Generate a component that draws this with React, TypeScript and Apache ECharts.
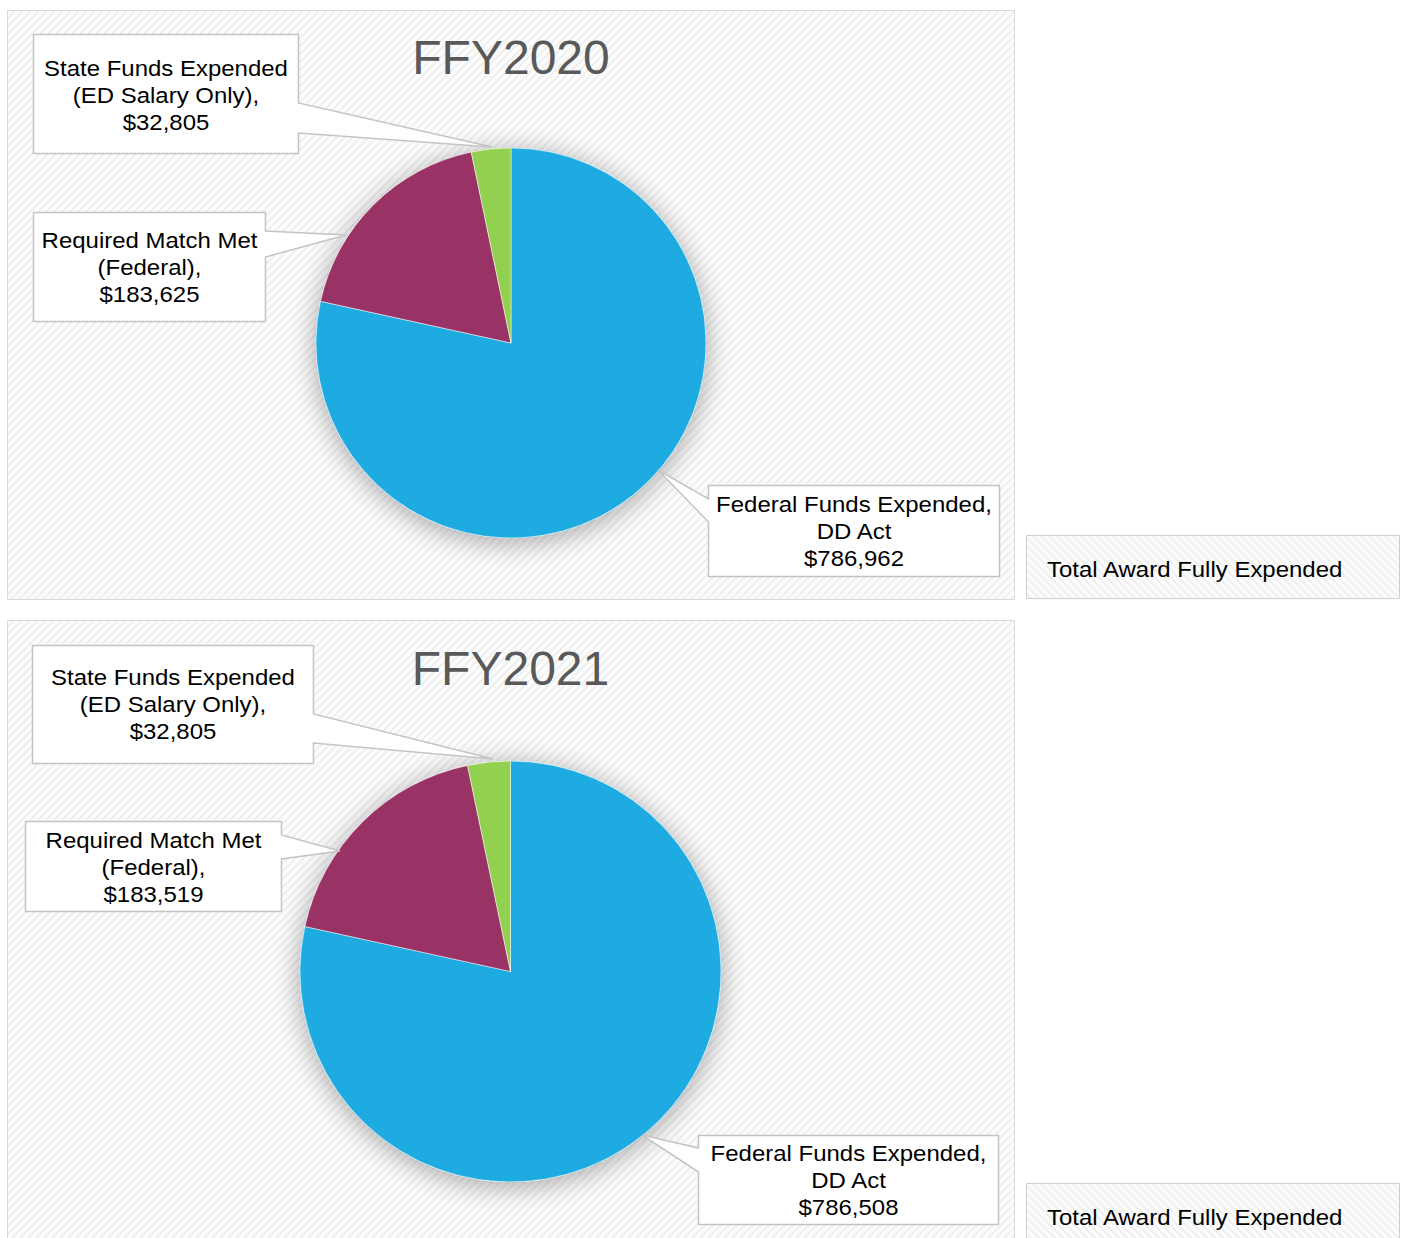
import React, { useEffect, useRef } from "react";
import * as echarts from "echarts";

// ---- data ----
const years = ["FFY2020", "FFY2021"];
const categories = [
  "Federal Funds Expended,\nDD Act",
  "Required Match Met\n(Federal),",
  "State Funds Expended\n(ED Salary Only),",
];
const values2020 = [786962, 183625, 32805];
const values2021 = [786508, 183519, 32805];
const sideNote = "Total Award Fully Expended";
const sliceColors = ["#1EABE1", "#993366", "#92D050"];

const FONT = "'Liberation Sans', Arial, sans-serif";
const TEXT_STRETCH = 1.09;

function fmt(v: number) {
  return "$" + v.toLocaleString("en-US");
}

function makePattern(dir: number) {
  const c = document.createElement("canvas");
  c.width = 8;
  c.height = 8;
  const ctx = c.getContext("2d")!;
  ctx.fillStyle = "#fcfcfc";
  ctx.fillRect(0, 0, 8, 8);
  ctx.fillStyle = "#f0f0f0";
  for (let y = 0; y < 8; y++) {
    for (let x = 0; x < 8; x++) {
      const k = dir > 0 ? (x + y) % 8 : (x - y + 8) % 8;
      if (k < 3) ctx.fillRect(x, y, 1, 1);
    }
  }
  return c;
}

type Callout = {
  box: [number, number, number, number]; // x0,y0,x1,y1
  side: "left" | "right";
  w: [number, number]; // wedge y range on side
  tip: [number, number];
  textY: number;
};

// layout per panel: [federal, match, state]
const panelLayouts = [
  {
    panel: [7.5, 10.5, 1007, 589],
    center: [511, 343],
    radius: 195,
    titleY: 57,
    callouts: [
      { box: [708.5, 485.5, 999.5, 576.5], side: "left", w: [499, 522], tip: [658, 470], textY: 531 },
      { box: [33.5, 212.5, 265.5, 321.5], side: "right", w: [231, 257], tip: [346, 235], textY: 267 },
      { box: [33.5, 34.5, 298.5, 153.5], side: "right", w: [103, 133], tip: [492, 147], textY: 95 },
    ] as Callout[],
    note: [1026.5, 535.5, 373, 63],
  },
  {
    panel: [7.5, 620.5, 1007, 640],
    center: [510.5, 971.5],
    radius: 210.5,
    titleY: 668,
    callouts: [
      { box: [698.5, 1135.5, 998.5, 1224.5], side: "left", w: [1148, 1172], tip: [642, 1135], textY: 1180 },
      { box: [25.5, 821.5, 281.5, 911.5], side: "right", w: [835, 859], tip: [340, 851], textY: 867 },
      { box: [32.5, 645.5, 313.5, 763.5], side: "right", w: [714, 743], tip: [493, 759], textY: 704 },
    ] as Callout[],
    note: [1026.5, 1183.5, 373, 80],
  },
];

function calloutPoints(c: Callout) {
  const [x0, y0, x1, y1] = c.box;
  if (c.side === "right") {
    return [[x0, y0], [x1, y0], [x1, c.w[0]], c.tip, [x1, c.w[1]], [x1, y1], [x0, y1]];
  }
  return [[x0, y0], [x1, y0], [x1, y1], [x0, y1], [x0, c.w[1]], c.tip, [x0, c.w[0]]];
}

export default function App() {
  const ref = useRef<HTMLDivElement>(null);
  useEffect(() => {
    document.body.style.margin = "0";
    if (!ref.current) return;
    const chart = echarts.init(ref.current, null, { renderer: "svg" });
    const patA = makePattern(1);
    const patB = makePattern(-1);
    const allValues = [values2020, values2021];

    const graphics: any[] = [];
    const series: any[] = [];

    panelLayouts.forEach((L, pi) => {
      const vals = allValues[pi];
      graphics.push({
        type: "rect",
        z: -10,
        shape: { x: L.panel[0], y: L.panel[1], width: L.panel[2], height: L.panel[3] },
        style: {
          fill: { image: patA, repeat: "repeat", imageWidth: 8, imageHeight: 8 } as any,
          stroke: "#d9d9d9",
          lineWidth: 1,
        },
      });
      graphics.push({
        type: "text",
        z: 5,
        x: L.center[0],
        y: L.titleY,
        style: {
          text: years[pi],
          fill: "#595959",
          font: `48px ${FONT}`,
          align: "center",
          verticalAlign: "middle",
        },
      });
      L.callouts.forEach((c, ci) => {
        graphics.push({
          type: "polygon",
          z: 20,
          shape: { points: calloutPoints(c) },
          style: { fill: "#ffffff", stroke: "#c4c4c4", lineWidth: 1.5 },
        });
        graphics.push({
          type: "text",
          z: 21,
          x: (c.box[0] + c.box[2]) / 2,
          y: c.textY,
          scaleX: TEXT_STRETCH,
          style: {
            text: categories[ci] + "\n" + fmt(vals[ci]),
            fill: "#000000",
            font: `22px ${FONT}`,
            lineHeight: 27,
            align: "center",
            verticalAlign: "middle",
          },
        });
      });
      graphics.push({
        type: "rect",
        z: -10,
        shape: { x: L.note[0], y: L.note[1], width: L.note[2], height: L.note[3] },
        style: {
          fill: { image: patB, repeat: "repeat", imageWidth: 8, imageHeight: 8 } as any,
          stroke: "#d0d0d0",
          lineWidth: 1,
        },
      });
      graphics.push({
        type: "text",
        z: 5,
        x: 1047,
        y: L.note[1] + 34,
        scaleX: TEXT_STRETCH,
        style: {
          text: sideNote,
          fill: "#000000",
          font: `22px ${FONT}`,
          align: "left",
          verticalAlign: "middle",
        },
      });

      // shadow disc
      series.push({
        type: "pie",
        silent: true,
        z: 1,
        center: L.center,
        radius: L.radius,
        label: { show: false },
        labelLine: { show: false },
        itemStyle: {
          color: "#ffffff",
          shadowBlur: 28,
          shadowColor: "rgba(0,0,0,0.35)",
          shadowOffsetY: 4,
        },
        data: [{ value: 1, name: "shadow" + pi }],
      });
      series.push({
        type: "pie",
        z: 2,
        center: L.center,
        radius: L.radius,
        startAngle: 90,
        clockwise: true,
        label: { show: false },
        labelLine: { show: false },
        itemStyle: { borderColor: "#ffffff", borderWidth: 0.5 },
        data: categories.map((n, i) => ({
          name: n,
          value: vals[i],
          itemStyle: { color: sliceColors[i] },
        })),
      });
    });

    chart.setOption({
      animation: false,
      tooltip: { show: false },
      graphic: { elements: graphics },
      series,
    });
    return () => chart.dispose();
  }, []);
  return <div ref={ref} style={{ width: 1406, height: 1238, background: "#ffffff" }} />;
}
